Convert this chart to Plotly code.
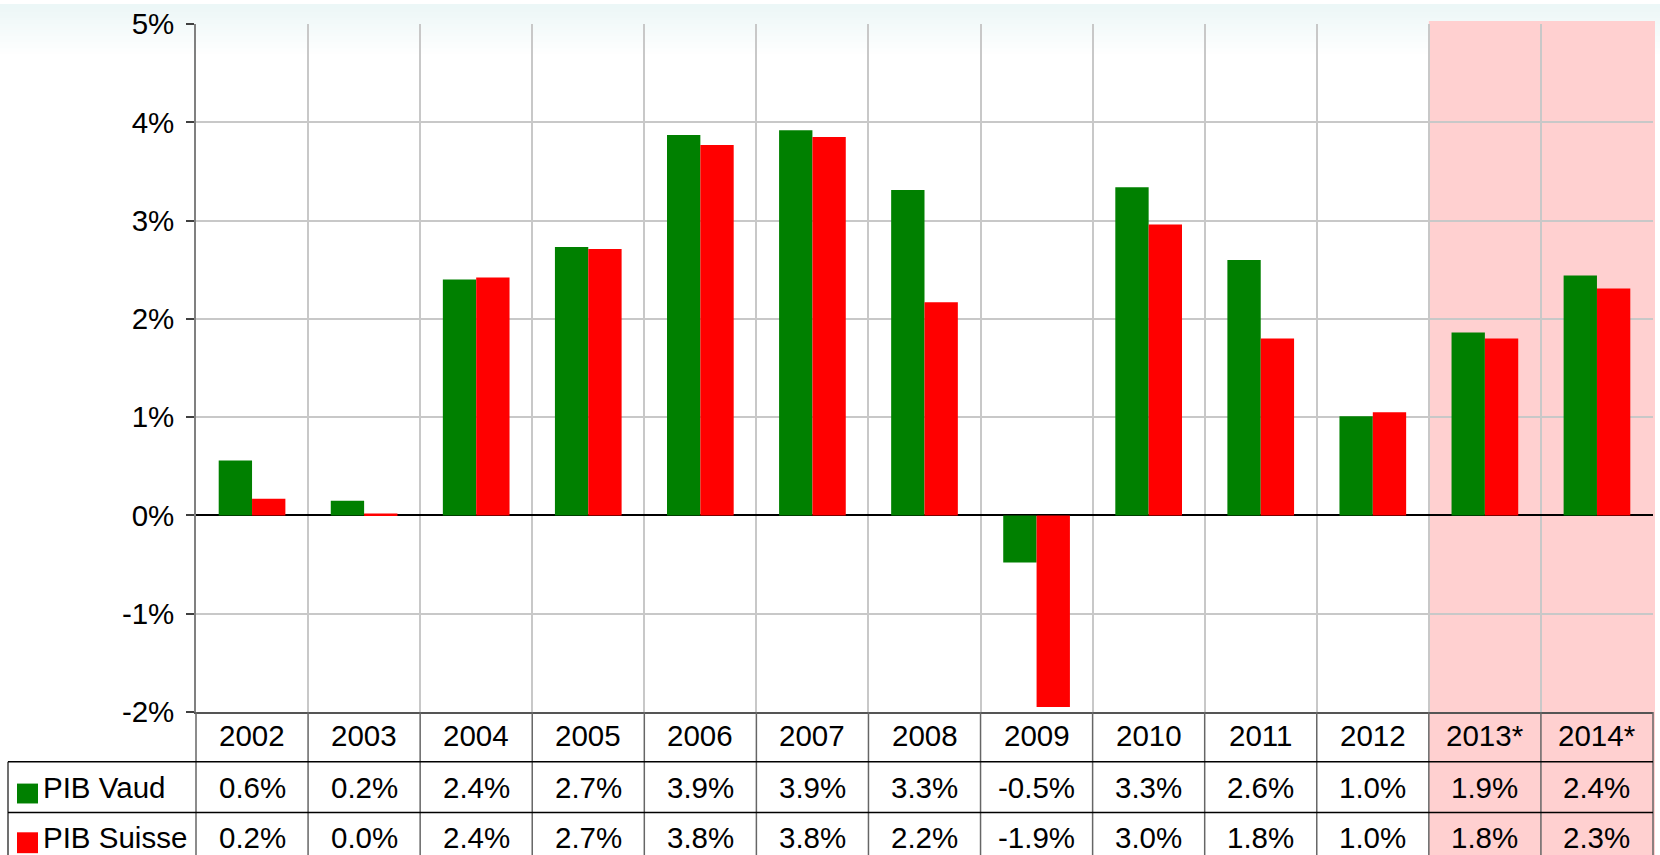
import plotly.graph_objects as go

# ---- data ----
years = ["2002", "2003", "2004", "2005", "2006", "2007", "2008",
         "2009", "2010", "2011", "2012", "2013*", "2014*"]
pib_vaud = [0.56, 0.15, 2.40, 2.73, 3.87, 3.92, 3.31,
            -0.48, 3.34, 2.60, 1.01, 1.86, 2.44]
pib_suisse = [0.17, 0.02, 2.42, 2.71, 3.77, 3.85, 2.17,
              -1.95, 2.96, 1.80, 1.05, 1.80, 2.31]
vaud_labels = ["0.6%", "0.2%", "2.4%", "2.7%", "3.9%", "3.9%", "3.3%",
               "-0.5%", "3.3%", "2.6%", "1.0%", "1.9%", "2.4%"]
suisse_labels = ["0.2%", "0.0%", "2.4%", "2.7%", "3.8%", "3.8%", "2.2%",
                 "-1.9%", "3.0%", "1.8%", "1.0%", "1.8%", "2.3%"]
series_names = ["PIB Vaud", "PIB Suisse"]
y_ticks = [-2, -1, 0, 1, 2, 3, 4, 5]
y_tick_text = ["-2%", "-1%", "0%", "1%", "2%", "3%", "4%", "5%"]
forecast_years = ["2013*", "2014*"]

GREEN = "#008000"
RED = "#ff0000"
PINK = "#ffd0d0"
FONT = "Liberation Sans, Arial, sans-serif"
FS = 29.5

W, H = 1660, 855
ML, MR, MT, MB = 196, 7, 20, 143
PW = W - ML - MR
PH = H - MT - MB
n = len(years)


def px(X):
    return (X - ML) / PW


def py(Y):
    return (H - MB - Y) / PH


def bx(b):  # category position (index units) -> paper x
    return (b + 0.5) / n


fig = go.Figure()
fig.add_trace(go.Bar(x=years, y=pib_vaud, name=series_names[0],
                     marker=dict(color=GREEN, line=dict(width=0))))
fig.add_trace(go.Bar(x=years, y=pib_suisse, name=series_names[1],
                     marker=dict(color=RED, line=dict(width=0))))

shapes = []
# top light gradient background
steps = 25
for k in range(steps):
    t = k / steps
    r = int(236 + (255 - 236) * t)
    g = int(247 + (255 - 247) * t)
    b = int(247 + (255 - 247) * t)
    y0 = k * 2
    y1 = y0 + 2.5
    shapes.append(dict(type="rect", xref="paper", yref="paper",
                       x0=px(0), x1=px(W), y0=py(y1), y1=py(y0),
                       fillcolor=f"rgb({r},{g},{b})", line=dict(width=0),
                       layer="below"))

# forecast band
i0 = years.index(forecast_years[0])
i1 = years.index(forecast_years[-1])
shapes.append(dict(type="rect", xref="paper", yref="paper",
                   x0=bx(i0 - 0.5), x1=bx(i1 + 0.5) + 2 / PW,
                   y0=py(H + 5), y1=py(17),
                   fillcolor=PINK, line=dict(width=0), layer="below"))

# table lines
for bnd in range(n + 1):
    shapes.append(dict(type="line", xref="paper", yref="paper",
                       x0=bx(bnd - 0.5), x1=bx(bnd - 0.5),
                       y0=py(H - MB), y1=py(H + 5),
                       line=dict(color="#666666", width=1.5)))
shapes.append(dict(type="line", xref="paper", yref="paper",
                   x0=px(8), x1=px(8), y0=py(762), y1=py(H + 5),
                   line=dict(color="#404040", width=1.5)))
for yy in (762, 813):
    shapes.append(dict(type="line", xref="paper", yref="paper",
                       x0=px(8), x1=bx(n - 0.5), y0=py(yy), y1=py(yy),
                       line=dict(color="#000000", width=1.5)))
# legend keys
shapes.append(dict(type="rect", xref="paper", yref="paper",
                   x0=px(17), x1=px(38), y0=py(804), y1=py(784),
                   fillcolor=GREEN, line=dict(width=0)))
shapes.append(dict(type="rect", xref="paper", yref="paper",
                   x0=px(17), x1=px(38), y0=py(854), y1=py(833),
                   fillcolor=RED, line=dict(width=0)))

annotations = []
tf = dict(family=FONT, size=FS, color="#000000")
for i, yr in enumerate(years):
    for txt, yy in ((yr, 736), (vaud_labels[i], 788), (suisse_labels[i], 838)):
        annotations.append(dict(x=bx(i), xref="paper", y=py(yy), yref="paper",
                                text=txt, showarrow=False, font=tf,
                                xanchor="center", yanchor="middle"))
for name, yy in ((series_names[0], 788), (series_names[1], 838)):
    annotations.append(dict(x=px(41), xref="paper", y=py(yy), yref="paper",
                            text=name, showarrow=False, font=tf,
                            xanchor="left", yanchor="middle"))

fig.update_layout(
    width=W, height=H,
    margin=dict(l=ML, r=MR, t=MT, b=MB, pad=0),
    paper_bgcolor="#ffffff",
    plot_bgcolor="rgba(0,0,0,0)",
    barmode="group", bargap=0.405, bargroupgap=0,
    showlegend=False,
    font=dict(family=FONT, size=FS, color="#000000"),
    shapes=shapes,
    annotations=annotations,
    xaxis=dict(type="category", range=[-0.5, n - 0.5],
               tickson="boundaries", showticklabels=False, ticks="",
               showgrid=True, gridcolor="#c8c8c8", gridwidth=1.5,
               showline=True, linecolor="#555555", linewidth=1.5,
               fixedrange=True),
    yaxis=dict(range=[-2, 5], tickvals=y_ticks, ticktext=y_tick_text,
               showgrid=True, gridcolor="#c8c8c8", gridwidth=1.5,
               zeroline=True, zerolinecolor="#000000", zerolinewidth=1.5,
               showline=True, linecolor="#808080", linewidth=1.5,
               ticks="outside", ticklen=8, tickwidth=1.5, tickcolor="#404040",
               ticklabelstandoff=6,
               tickfont=dict(family=FONT, size=FS, color="#000000"),
               fixedrange=True),
)

fig.write_html(
    "out.html",
    config={"displayModeBar": False},
    post_script="document.body.style.margin='0';document.body.style.overflow='hidden';",
)
